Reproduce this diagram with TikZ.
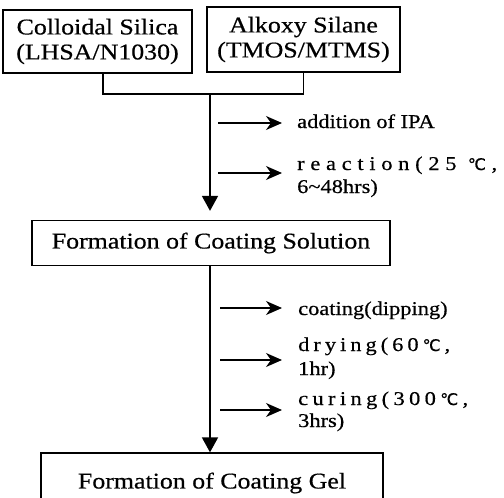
\documentclass[tikz,border=0pt]{standalone}
\usepackage{fontspec}
\setmainfont{Liberation Serif}[FakeStretch=1.15,FakeBold=0.6]
\newfontfamily\symfam{DejaVu Sans}[FakeBold=0.6]
\usetikzlibrary{arrows.meta}
\newcommand\bxfont{\fontsize{22.5}{25}\selectfont}
\newcommand\lbfont{\fontsize{19.5}{23}\selectfont}
\newcommand\degc{{\symfam\fontsize{16}{16}\selectfont ℃}}
\begin{document}
\begin{tikzpicture}[x=1pt,y=-1pt,
  box/.style={draw, line width=1.3pt, inner sep=0pt, font=\bxfont},
  flow/.style={line width=1.8pt, -{Triangle[width=16pt,length=15pt]}},
  side/.style={line width=1.2pt, -{Stealth[length=16pt,width=14pt,inset=5pt]}},
  lbl/.style={anchor=base west, inner sep=0pt, font=\lbfont}]
\useasboundingbox (0,0) rectangle (504,498);
\clip (0,0) rectangle (504,498);

% boxes
\node[box, minimum width=189pt, minimum height=63pt, align=center] (b1) at (97.5,41.5) {Colloidal Silica\\(LHSA/N1030)};
\node[box, minimum width=193pt, minimum height=65pt, align=center] (b2) at (303.5,39.5) {Alkoxy Silane\\(TMOS/MTMS)};
\node[box, minimum width=358pt, minimum height=45pt] (sol) at (211,243) {Formation of Coating Solution};
\node[box, minimum width=342pt, minimum height=60pt] (gel) at (212,483) {Formation of Coating Gel};

% bracket and main flow
\coordinate (j) at (210,94);
\draw[line width=1.3pt] ([xshift=5.5pt]b1.south) -- ([xshift=5.5pt]b1.south |- j) -- (b2.south |- j) -- (b2.south);
\draw[flow, shorten >=9pt] (j) -- (j |- sol.north);
\draw[flow] (j |- sol.south) -- (j |- gel.north);

% side labels
\node[lbl] (l1) at (297,128) {addition of IPA};
\node[lbl] (l2a) at (297,170) {\makebox[200pt][s]{r\hfil e\hfil a\hfil c\hfil t\hfil i\hfil o\hfil n\hfil (\hfil 2\hfil 5\hfil\hfil \degc\hfil ,}};
\node[lbl] (l2b) at (297,193) {6\textasciitilde48hrs)};
\node[lbl] (l3) at (298,315) {coating(dipping)};
\node[lbl] (l4a) at (298,351) {\makebox[152pt][s]{d\hfil r\hfil y\hfil i\hfil n\hfil g\hfil (\hfil 6\hfil 0\hfil \degc\hfil ,}};
\node[lbl] (l4b) at (298,375) {1hr)};
\node[lbl] (l5a) at (298,405) {\makebox[170pt][s]{c\hfil u\hfil r\hfil i\hfil n\hfil g\hfil (\hfil 3\hfil 0\hfil 0\hfil \degc\hfil ,}};
\node[lbl] (l5b) at (298,427) {3hrs)};

% side arrows
\coordinate (s1) at (218,123); \coordinate (e1) at (282,123);
\coordinate (s2) at (218,173); \coordinate (e2) at (282,173);
\coordinate (s3) at (220,308); \coordinate (e3) at (282,308);
\coordinate (s4) at (220,360); \coordinate (e4) at (282,360);
\coordinate (s5) at (220,410); \coordinate (e5) at (282,410);
\foreach \i in {1,...,5} \draw[side] (s\i) -- (e\i);
\end{tikzpicture}
\end{document}
